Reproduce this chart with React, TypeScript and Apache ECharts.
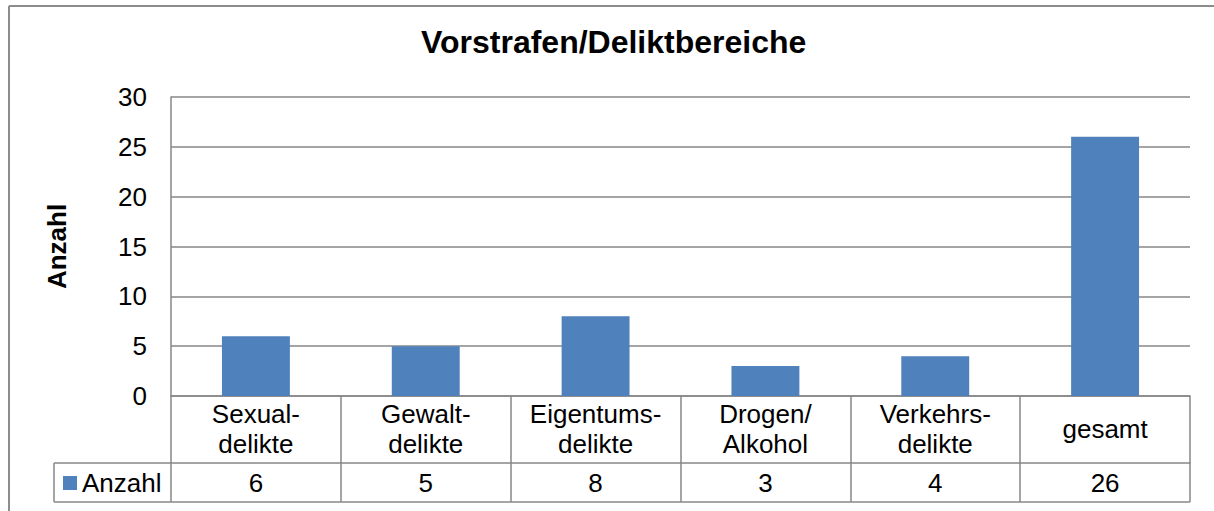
import React, { useEffect, useRef } from "react";
import * as echarts from "echarts";

const categories = ["Sexual-\ndelikte", "Gewalt-\ndelikte", "Eigentums-\ndelikte", "Drogen/\nAlkohol", "Verkehrs-\ndelikte", "gesamt"];
const values = [6, 5, 8, 3, 4, 26];
const seriesName = "Anzahl";
const title = "Vorstrafen/Deliktbereiche";
const yName = "Anzahl";

const FONT = "'Liberation Sans', Arial, sans-serif";
const GRAY = "#878787";

export default function App() {
  const ref = useRef<HTMLDivElement>(null);
  useEffect(() => {
    document.body.style.margin = "0";
    const chart = echarts.init(ref.current!, null, { renderer: "svg" });
    const L = 171, R = 1190, T = 97, B = 396;
    const row1 = 463, row2 = 502, legL = 54;
    const lineStyle = { stroke: GRAY, lineWidth: 1.5 };
    chart.setOption({
      animation: false,
      textStyle: { fontFamily: FONT, color: "#000" },
      title: {
        text: title,
        left: 421,
        top: 26,
        padding: 0,
        textStyle: { fontFamily: FONT, fontSize: 32, fontWeight: "bold", color: "#000" },
      },
      legend: {
        data: [seriesName],
        left: 63,
        top: 470,
        padding: 0,
        itemWidth: 14,
        itemHeight: 14,
        icon: "rect",
        textStyle: { fontFamily: FONT, fontSize: 26, color: "#000" },
      },
      grid: { left: L, right: 1214 - R, top: T, bottom: 511 - B, containLabel: false },
      xAxis: [
        {
          type: "category",
          data: categories,
          position: "bottom",
          axisLine: { show: true, lineStyle: { color: GRAY, width: 1.5 } },
          axisTick: { show: true, length: row2 - B, lineStyle: { color: GRAY, width: 1.5 } },
          axisLabel: {
            fontFamily: FONT,
            fontSize: 26,
            color: "#000",
            lineHeight: 30,
            verticalAlign: "middle",
            margin: 33,
            interval: 0,
          },
        },
        {
          type: "category",
          data: values.map(String),
          position: "bottom",
          offset: row1 - B,
          axisLine: { show: true, lineStyle: { color: GRAY, width: 1.5 } },
          axisTick: { show: false },
          axisLabel: {
            fontFamily: FONT,
            fontSize: 26,
            color: "#000",
            verticalAlign: "middle",
            margin: 20,
            interval: 0,
          },
        },
      ],
      yAxis: {
        type: "value",
        min: 0,
        max: 30,
        interval: 5,
        name: yName,
        nameLocation: "middle",
        nameRotate: 90,
        nameGap: 101,
        nameTextStyle: { fontFamily: FONT, fontSize: 26, fontWeight: "bold", color: "#000" },
        axisLine: { show: true, lineStyle: { color: GRAY, width: 1.5 } },
        axisTick: { show: false },
        axisLabel: { fontFamily: FONT, fontSize: 26, color: "#000", margin: 24 },
        splitLine: { show: true, lineStyle: { color: GRAY, width: 1.5 } },
      },
      series: [
        {
          name: seriesName,
          type: "bar",
          data: values,
          barWidth: "40%",
          itemStyle: { color: "#4F81BD" },
        },
      ],
      graphic: [
        { type: "line", shape: { x1: legL, y1: row1, x2: L, y2: row1 }, style: lineStyle },
        { type: "line", shape: { x1: legL, y1: row2, x2: R, y2: row2 }, style: lineStyle },
        { type: "line", shape: { x1: legL, y1: row1, x2: legL, y2: row2 }, style: lineStyle },
        { type: "line", shape: { x1: 9, y1: 6, x2: 1214, y2: 6 }, style: { stroke: "#8c8c8c", lineWidth: 2 } },
        { type: "line", shape: { x1: 9, y1: 6, x2: 9, y2: 511 }, style: { stroke: "#8c8c8c", lineWidth: 2 } },
      ],
    });
    return () => chart.dispose();
  }, []);
  return <div ref={ref} style={{ width: 1214, height: 511 }} />;
}
